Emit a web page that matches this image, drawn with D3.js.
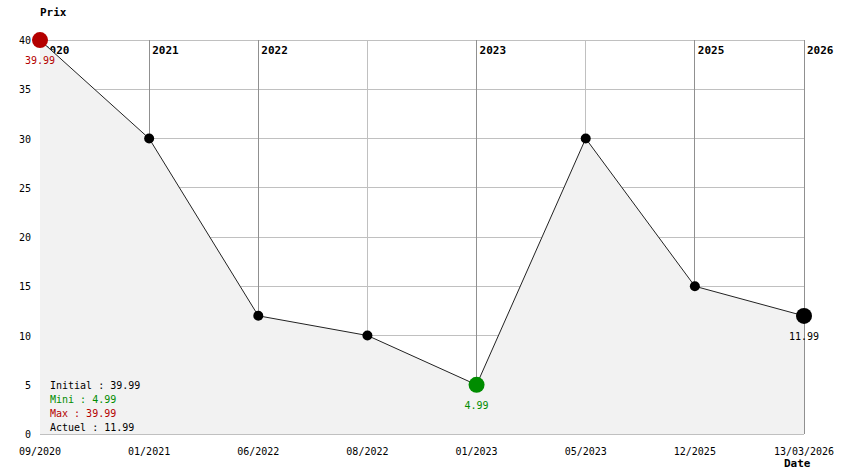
<!DOCTYPE html>
<html><head><meta charset="utf-8">
<script src="https://cdn.jsdelivr.net/npm/d3@7"></script>
<style>body{margin:0;background:#fff}svg{display:block}text{font-family:"DejaVu Sans Mono","Liberation Mono",monospace}</style>
</head><body>
<svg id="c" width="844" height="474"></svg>
<script>
const dates = ["09/2020","01/2021","06/2022","08/2022","01/2023","05/2023","12/2025","13/03/2026"];
const prices = [39.99, 30, 12, 10, 4.99, 30, 15, 11.99];
const yearMarks = [{i:0,label:"2020"},{i:1,label:"2021"},{i:2,label:"2022"},{i:4,label:"2023"},{i:6,label:"2025"},{i:7,label:"2026"}];
const yTicks = [0,5,10,15,20,25,30,35,40];
const legend = [["Initial : 39.99","#000"],["Mini : 4.99","#008c00"],["Max : 39.99","#b40000"],["Actuel : 11.99","#000"]];

const svg = d3.select("#c");
const x = d3.scalePoint().domain(d3.range(dates.length)).range([40,804]);
const y = d3.scaleLinear().domain([0,40]).range([434,40]);

// horizontal grid
svg.append("g").selectAll("line").data(yTicks).join("line")
  .attr("x1",40).attr("x2",804).attr("y1",d=>y(d)).attr("y2",d=>y(d))
  .attr("stroke","#c0c0c0").attr("stroke-width",1).attr("shape-rendering","crispEdges");
// vertical grid
const yearIdx = new Set(yearMarks.map(d=>d.i));
svg.append("g").selectAll("line").data(d3.range(1,dates.length)).join("line")
  .attr("x1",d=>x(d)).attr("x2",d=>x(d)).attr("y1",40).attr("y2",434)
  .attr("stroke",d=>yearIdx.has(d)?"#909090":"#c0c0c0").attr("shape-rendering","crispEdges");

// year labels
svg.append("g").selectAll("text").data(yearMarks).join("text")
  .attr("x",d=>x(d.i)+3).attr("y",54).attr("font-size",11).attr("font-weight","bold")
  .text(d=>d.label);

// area
svg.append("path").datum(prices)
  .attr("d", d3.area().x((d,i)=>x(i)).y0(434).y1(d=>y(d)))
  .attr("fill","#f2f2f2");
// line
svg.append("path").datum(prices)
  .attr("d", d3.line().x((d,i)=>x(i)).y(d=>y(d)))
  .attr("fill","none").attr("stroke","#222").attr("stroke-width",1);

// points
const iMax = prices.indexOf(d3.max(prices)), iMin = prices.indexOf(d3.min(prices)), iLast = prices.length-1;
const col = i => i===iMax?"#b40000":i===iMin?"#008c00":"#000";
const big = i => i===iMax||i===iMin||i===iLast;
svg.append("g").selectAll("circle").data(prices).join("circle")
  .attr("cx",(d,i)=>x(i)).attr("cy",d=>y(d)).attr("r",(d,i)=>big(i)?8:5)
  .attr("fill",(d,i)=>col(i));
// value labels
svg.append("g").selectAll("text").data([iMax,iMin,iLast]).join("text")
  .attr("x",i=>x(i)).attr("y",i=>y(prices[i])+24).attr("text-anchor","middle")
  .attr("font-size",10).attr("fill",i=>col(i)).text(i=>prices[i].toFixed(2));

// y axis labels
svg.append("g").selectAll("text").data(yTicks).join("text")
  .attr("x",31).attr("y",d=>y(d)+4).attr("text-anchor","end").attr("font-size",10)
  .text(d=>d);
// x axis labels
svg.append("g").selectAll("text").data(dates).join("text")
  .attr("x",(d,i)=>x(i)).attr("y",455).attr("text-anchor","middle").attr("font-size",10)
  .text(d=>d);

svg.append("text").attr("x",40).attr("y",16).attr("font-size",11).attr("font-weight","bold").text("Prix");
svg.append("text").attr("x",784).attr("y",467).attr("font-size",11).attr("font-weight","bold").text("Date");

svg.append("g").selectAll("text").data(legend).join("text")
  .attr("x",50).attr("y",(d,i)=>389+i*14).attr("font-size",10).attr("fill",d=>d[1]).text(d=>d[0]);
</script>
</body></html>
